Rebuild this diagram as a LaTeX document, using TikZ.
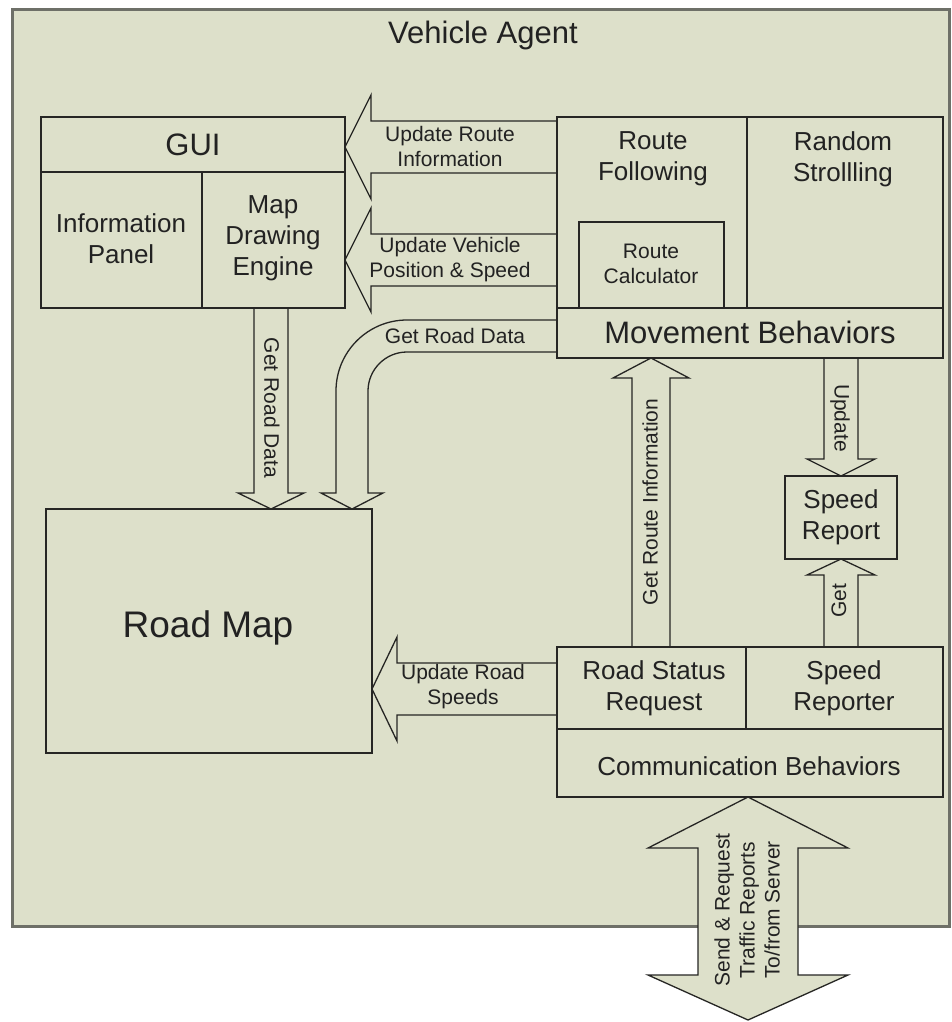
\documentclass[tikz,border=0pt]{standalone}
\usepackage{fontspec}
\setmainfont{Liberation Sans}
\definecolor{agentbg}{RGB}{221,224,202}
\definecolor{edge}{RGB}{38,38,36}
\definecolor{frameedge}{RGB}{110,112,104}
\definecolor{ink}{RGB}{34,34,34}
\begin{document}
\begin{tikzpicture}[x=1pt,y=-1pt,
  box/.style={draw=edge, line width=1.8pt, fill=agentbg},
  divider/.style={draw=edge, line width=1.8pt},
  barrow/.style={draw=edge, line width=1.3pt, fill=agentbg, line join=miter},
  lbl/.style={text=ink, align=center, inner sep=0pt},
  huge/.style={font=\fontsize{37}{44}\selectfont},
  big/.style={font=\fontsize{31}{37}\selectfont},
  mid/.style={font=\fontsize{26}{31}\selectfont},
  small/.style={font=\fontsize{21}{25}\selectfont},
]
\useasboundingbox (0,0) rectangle (951,1022);
\fill[white] (0,0) rectangle (951,1022);

% agent frame
\draw[draw=frameedge, line width=3pt, fill=agentbg] (12,10) rectangle (949,926);
\node[lbl, big] (title) at (483,35) {Vehicle Agent};

% ---- block arrows (drawn first, boxes cover their tails) ----
% Update Route Information
\draw[barrow] (557,121) -- (371,121) -- (371,95) -- (345,147)
  -- (371,199) -- (371,173) -- (557,173) -- cycle;
% Update Vehicle Position & Speed
\draw[barrow] (557,234) -- (371,234) -- (371,208) -- (345,260)
  -- (371,312) -- (371,286) -- (557,286) -- cycle;
% Update Road Speeds
\draw[barrow] (557,663) -- (397,663) -- (397,637) -- (372,689)
  -- (397,741) -- (397,715) -- (557,715) -- cycle;
% Get Road Data (from GUI)
\draw[barrow] (254,308) -- (254,493) -- (238,493) -- (271,509)
  -- (304,493) -- (288,493) -- (288,308) -- cycle;
% Get Road Data (curved, from movement behaviors)
\draw[barrow] (557,320) -- (407,320)
  .. controls (367.8,320) and (336,351.8) .. (336,391)
  -- (336,493) -- (321,493) -- (352,509) -- (383,493) -- (368,493)
  -- (368,391) .. controls (368,369.5) and (385.5,352) .. (407,352)
  -- (557,352) -- cycle;
% Get Route Information
\draw[barrow] (632,647) -- (632,378) -- (613,378) -- (651,358)
  -- (689,378) -- (670,378) -- (670,647) -- cycle;
% Update (speed report)
\draw[barrow] (824,358) -- (824,459) -- (807,459) -- (841,476)
  -- (875,459) -- (858,459) -- (858,358) -- cycle;
% Get (speed report)
\draw[barrow] (824,647) -- (824,575) -- (807,575) -- (841,559)
  -- (875,575) -- (858,575) -- (858,647) -- cycle;
% Send & Request (to/from server)
\draw[barrow] (748,797) -- (848,848) -- (798,848) -- (798,975)
  -- (848,975) -- (748,1020) -- (648,975) -- (698,975) -- (698,848)
  -- (648,848) -- cycle;

% ---- GUI ----
\draw[box] (41,117) rectangle (345,308);
\draw[divider] (41,172) -- (345,172);
\draw[divider] (202,172) -- (202,308);
\node[lbl, big] (gui) at (193,145) {GUI};
\node[lbl, mid] (info) at (121,239) {Information\\Panel};
\node[lbl, mid] (mapeng) at (273,238) {Map\\Drawing\\Engine};

% ---- movement behaviors ----
\draw[box] (557,117) rectangle (943,358);
\draw[divider] (557,308) -- (943,308);
\draw[divider] (747,117) -- (747,308);
\draw[box] (579,222) rectangle (724,308);
\node[lbl, mid] (follow) at (653,159) {Route\\Following};
\node[lbl, mid] (stroll) at (843,159) {Random\\Strollling};
\node[lbl, small] (calc) at (651,264) {Route\\Calculator};
\node[lbl, big] (move) at (750,332) {Movement Behaviors};

% ---- road map ----
\draw[box] (46,509) rectangle (372,753);
\node[lbl, huge] (roadmap) at (208,628) {Road Map};

% ---- speed report ----
\draw[box] (785,476) rectangle (897,559);
\node[lbl, mid] (speedrep) at (841,517) {Speed\\Report};

% ---- communication behaviors ----
\draw[box] (557,647) rectangle (943,797);
\draw[divider] (557,729) -- (943,729);
\draw[divider] (746,647) -- (746,729);
\node[lbl, mid] (status) at (654,688) {Road Status\\Request};
\node[lbl, mid] (reporter) at (844,688) {Speed\\Reporter};
\node[lbl, mid] (comm) at (749,766) {Communication Behaviors};

% ---- arrow labels ----
\node[lbl, small] (l1) at (450,146) {Update Route\\Information};
\node[lbl, small] (l2) at (450,260) {Update Vehicle\\Position \& Speed};
\node[lbl, small] (l3) at (455,336) {Get Road Data};
\node[lbl, small, rotate=-90] (l4) at (272,408) {Get Road Data};
\node[lbl, small, rotate=90] (l5) at (650,502) {Get Route Information};
\node[lbl, small, rotate=-90] (l6) at (840,418) {Update};
\node[lbl, small, rotate=90] (l7) at (839,601) {Get};
\node[lbl, small] (l8) at (463,687) {Update Road\\Speeds};
\node[lbl, small, rotate=90] (l9) at (747,910) {Send \& Request\\Traffic Reports\\To/from Server};
\end{tikzpicture}
\end{document}
